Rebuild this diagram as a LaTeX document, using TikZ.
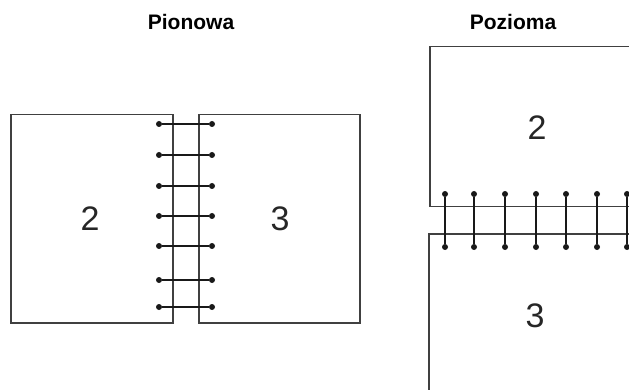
\documentclass[tikz,border=0pt]{standalone}
\usepackage{fontspec}
\setmainfont{Liberation Sans}
\begin{document}
\begin{tikzpicture}[x=1pt,y=-1pt,
  pagebox/.style={draw=black!75, line width=1.5pt, rectangle, inner sep=0pt, anchor=north west},
  dot/.style={circle, fill=black!90, inner sep=0pt, minimum size=6pt},
  ring/.style={draw=black!90, line width=2.4pt},
  num/.style={font=\fontsize{34}{34}\selectfont, anchor=base, inner sep=0pt, text=black!85},
  ttl/.style={font=\bfseries\fontsize{21}{21}\selectfont, anchor=base, inner sep=0pt}]
\useasboundingbox (0,0) rectangle (629,390);
\clip (0,0) rectangle (629,390);
% titles
\node[ttl] (t1) at (191,30) {Pionowa};
\node[ttl] (t2) at (513,30) {Pozioma};
% left: portrait binding
\node[pagebox, minimum width=162pt, minimum height=208pt] (L2) at (10,114) {};
\node[pagebox, minimum width=161pt, minimum height=208pt] (L3) at (198,114) {};
\node[num] (n2a) at (90,230) {2};
\node[num] (n3a) at (280,230) {3};
\foreach \i/\y in {1/124,2/155,3/186,4/216,5/246,6/280,7/307}{
  \node[dot] (la\i) at (159,\y) {};
  \node[dot] (lb\i) at (212,\y) {};
  \draw[ring] (la\i) -- (lb\i);
}
% right: landscape binding
\node[pagebox, minimum width=240pt, minimum height=160pt] (R2) at (429,46) {};
\node[pagebox, minimum width=240pt, minimum height=200pt] (R3) at (428,233) {};
\node[num] (n2b) at (537,140) {2};
\node[num] (n3b) at (535,327) {3};
\foreach \i/\x in {1/445,2/474,3/505,4/536,5/566,6/597,7/627}{
  \node[dot] (ra\i) at (\x,194) {};
  \node[dot] (rb\i) at (\x,247) {};
  \draw[ring] (ra\i) -- (rb\i);
}
\end{tikzpicture}
\end{document}
